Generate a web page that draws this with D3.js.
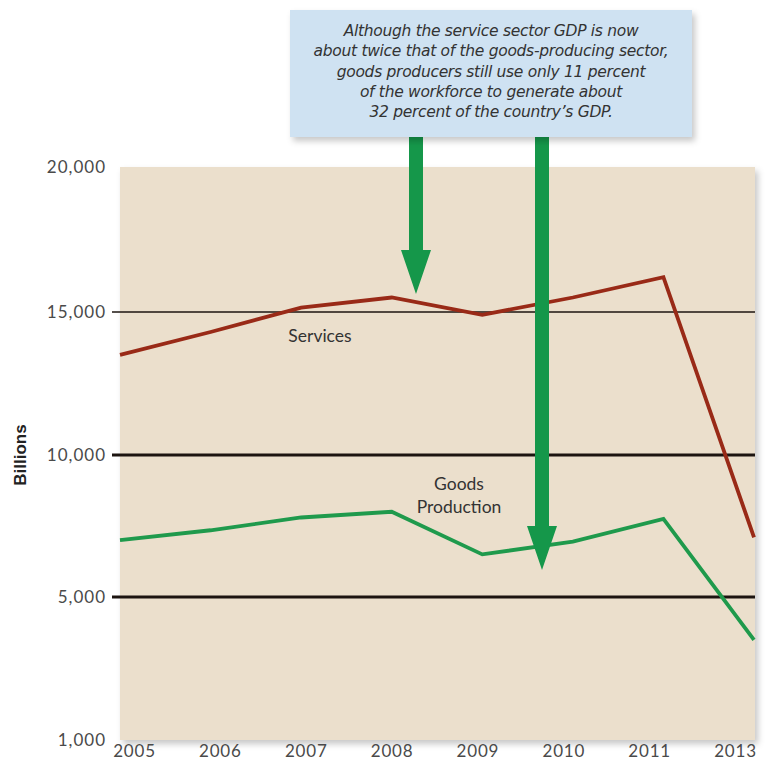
<!DOCTYPE html>
<html>
<head>
<meta charset="utf-8">
<script src="https://cdn.jsdelivr.net/npm/d3@7"></script>
<style>
  body { margin: 0; background: #fff; }
  svg { display: block; }
</style>
</head>
<body>
<script>
// data
var years = ["2005", "2006", "2007", "2008", "2009", "2010", "2011", "2013"];
var services = [13500, 14300, 15150, 15500, 14900, 15500, 16200, 7100];
var goods = [7000, 7350, 7800, 8000, 6500, 6950, 7750, 3800];
var yTicks = [1000, 5000, 10000, 15000, 20000];
var gridValues = [15000, 10000, 5000];
var note = [
  "Although the service sector GDP is now",
  "about twice that of the goods-producing sector,",
  "goods producers still use only 11 percent",
  "of the workforce to generate about",
  "32 percent of the country\u2019s GDP."
];

(function(){
    var W = 781, H = 769;
    var pl = 120, pr = 755, pt = 167, pb = 740;
    var tickFont = "Lato, 'DejaVu Sans', sans-serif";

    var svg = d3.select("body").append("svg")
        .attr("width", W)
        .attr("height", H);

    var defs = svg.append("defs");
    var f = defs.append("filter").attr("id", "shadow")
        .attr("x", "-5%").attr("y", "-5%").attr("width", "115%").attr("height", "120%");
    f.append("feDropShadow").attr("dx", 3).attr("dy", 4).attr("stdDeviation", 3)
        .attr("flood-color", "#000").attr("flood-opacity", 0.22);

    // x: evenly spaced categories (2012 is skipped in the source)
    var x = d3.scalePoint().domain(years).range([pl, pr - 1]);
    var xLab = d3.scalePoint().domain(years).range([134, 735]);
    // y: tick marks evenly spaced even though 1,000 -> 5,000 is a smaller step
    var y = d3.scaleLinear().domain(yTicks).range([pb, 597, 455, 312, pt]);

    // plot background
    svg.append("rect")
        .attr("x", pl).attr("y", pt)
        .attr("width", pr - pl).attr("height", pb - pt)
        .attr("fill", "#ebdfcc")
        .attr("filter", "url(#shadow)");

    // gridlines
    svg.selectAll(".grid").data(gridValues).enter().append("line")
        .attr("class", "grid")
        .attr("x1", pl - 8).attr("x2", pr)
        .attr("y1", function(d){ return y(d); })
        .attr("y2", function(d){ return y(d); })
        .attr("stroke", "#1c1410")
        .attr("stroke-width", function(d){ return d === 15000 ? 1.5 : 2.8; });

    // y tick labels
    svg.selectAll(".ylab").data(yTicks).enter().append("text")
        .attr("class", "ylab")
        .attr("x", 106)
        .attr("y", function(d){ return y(d); })
        .attr("dy", "0.35em")
        .attr("text-anchor", "end")
        .attr("font-family", tickFont)
        .attr("font-size", 17)
        .attr("letter-spacing", 1)
        .attr("fill", "#4a4a4a")
        .text(function(d){ return d3.format(",")(d); });

    // x axis labels
    var xAxis = d3.axisBottom(xLab).tickSize(0).tickPadding(0);
    var gx = svg.append("g")
        .attr("transform", "translate(0," + (pb + 5) + ")")
        .call(xAxis);
    gx.select(".domain").remove();
    gx.selectAll("text")
        .attr("font-family", tickFont)
        .attr("font-size", 17)
        .attr("letter-spacing", 0.8)
        .attr("fill", "#4a4a4a");

    // axis title
    svg.append("text")
        .attr("transform", "translate(26,455) rotate(-90)")
        .attr("text-anchor", "middle")
        .attr("font-family", "'Liberation Sans', Arial, sans-serif")
        .attr("font-weight", "bold")
        .attr("font-size", 17)
        .attr("fill", "#222")
        .text("Billions");

    // lines
    var line = d3.line()
        .x(function(d, i){ return x(years[i]); })
        .y(function(d){ return y(d); });

    svg.append("path").datum(services)
        .attr("d", line)
        .attr("fill", "none")
        .attr("stroke", "#992a17")
        .attr("stroke-width", 3.8);

    svg.append("path").datum(goods)
        .attr("d", line)
        .attr("fill", "none")
        .attr("stroke", "#1f9a4c")
        .attr("stroke-width", 3.8);

    // series labels
    var labFont = "Lato, 'DejaVu Sans', sans-serif";
    function label(t, lx, ly) {
        svg.append("text").attr("x", lx).attr("y", ly)
            .attr("text-anchor", "middle").attr("font-family", labFont)
            .attr("font-size", 17.5).attr("fill", "#333")
            .text(t);
    }
    label("Services", 320, 342);
    label("Goods", 459, 490);
    label("Production", 459, 513);

    // green arrows from the note box
    var arrowGreen = "#15974a";
    function arrow(cx, y0, tip) {
        var sw = 7, hw = 15, hh = 44;
        var p = [
            [cx - sw, y0], [cx + sw, y0], [cx + sw, tip - hh], [cx + hw, tip - hh],
            [cx, tip], [cx - hw, tip - hh], [cx - sw, tip - hh]
        ];
        svg.append("path")
            .attr("d", "M" + p.map(function(q){ return q.join(","); }).join("L") + "Z")
            .attr("fill", arrowGreen);
    }
    arrow(416, 130, 294);
    arrow(542, 130, 570);

    // note box
    svg.append("rect")
        .attr("x", 290).attr("y", 10)
        .attr("width", 402).attr("height", 127)
        .attr("fill", "#cfe2f2")
        .attr("filter", "url(#shadow)");

    svg.selectAll(".note").data(note).enter().append("text")
        .attr("class", "note")
        .attr("x", 491)
        .attr("y", function(d, i){ return 36 + i * 20.3; })
        .attr("text-anchor", "middle")
        .attr("font-family", "'DejaVu Sans', sans-serif")
        .attr("font-style", "italic")
        .attr("font-size", 15.5)
        .attr("fill", "#333")
        .attr("letter-spacing", -0.3)
        .text(function(d){ return d; });
})();
</script>
</body>
</html>
